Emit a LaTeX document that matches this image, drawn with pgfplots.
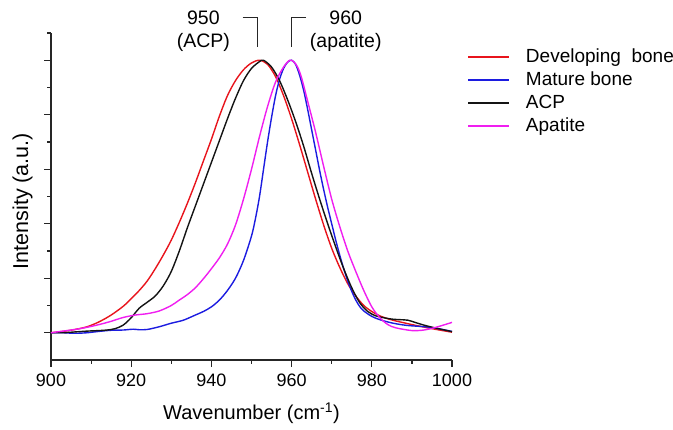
\documentclass[border=0pt]{standalone}
\usepackage{fontspec}
\setmainfont{Liberation Sans}
\usepackage{pgfplots}
\pgfplotsset{compat=1.18}
\definecolor{devred}{HTML}{E8141C}
\definecolor{matblue}{HTML}{1C1CE0}
\definecolor{acpblack}{HTML}{141414}
\definecolor{apamag}{HTML}{F01EF0}

\begin{document}
\begin{tikzpicture}
\begin{axis}[
    scale only axis,
    width=401pt, height=327pt,
    at={(51pt,70pt)}, anchor=south west,
    xmin=900, xmax=1000, ymin=-0.1, ymax=1.1,
    axis lines=left,
    axis line style={-, line width=1.2pt, black!85},
    xtick={900,920,940,960,980,1000},
    minor xtick={910,930,950,970,990},
    ytick={0,0.2,0.4,0.6,0.8,1.0},
    minor ytick={0.1,0.3,0.5,0.7,0.9,1.1},
    yticklabels={},
    tick align=outside,
    major tick length=7pt, minor tick length=4pt,
    tick style={line width=1.2pt, black!85},
    /pgf/number format/1000 sep={},
    /pgf/number format/assume math mode=true,
    xticklabel style={font=\fontsize{18}{22}\selectfont, anchor=base, inner sep=0pt, yshift=-19.5pt},
    xlabel={Wavenumber (cm\textsuperscript{-1})},
    ylabel={Intensity (a.u.)},
    xlabel style={font=\fontsize{20}{24}\selectfont, at={(axis description cs:0.5,-0.1835)}, anchor=base},
    ylabel style={font=\fontsize{21.5}{25}\selectfont, at={(axis description cs:-0.057,0.486)}, anchor=base},
    clip=false,
    legend cell align=left,
    legend style={draw=none, fill=none, at={(1.0374,0.953)}, anchor=north west,
        inner sep=0pt, row sep=5.5pt, column sep=16pt,
        nodes={inner sep=0pt, text height=13.5pt, text depth=4pt},
        font=\fontsize{19}{23}\selectfont},
    legend image code/.code={\draw[#1, line width=1.8pt] (0pt,0pt) -- (41pt,0pt);},
    every axis plot/.append style={line width=1.4pt, smooth},
]
% Developing bone
\addplot[devred] coordinates {
(900,0.0) (903,0.005) (906,0.012) (909,0.022) (912,0.04) (915,0.065) (918,0.097)
(920,0.125) (922,0.155) (924,0.19) (926,0.235) (928,0.285) (930,0.34) (932,0.405)
(934,0.475) (936,0.55) (938,0.63) (940,0.71) (942,0.795) (944,0.87) (946,0.925)
(948,0.965) (950,0.99) (952,1.0) (954,0.985) (956,0.94) (958,0.87) (960,0.785)
(962,0.69) (964,0.59) (966,0.49) (968,0.395) (970,0.31) (972,0.24) (974,0.18)
(976,0.135) (978,0.10) (980,0.078) (982,0.062) (985,0.047) (990,0.03) (995,0.015)
(1000,0.002)
};
\addlegendentry{Developing\ \ bone}
% Mature bone
\addplot[matblue] coordinates {
(900,0.0) (903,0.0) (906,-0.002) (909,0.0) (912,0.005) (915,0.009) (918,0.01)
(920.5,0.013) (922,0.011) (924,0.012) (927,0.022) (930,0.035) (933,0.046)
(936,0.065) (938,0.078) (940,0.095) (942,0.12) (944,0.155) (946,0.2) (948,0.265)
(950,0.355) (951,0.42) (952,0.5) (953,0.6) (954,0.7) (955,0.79) (956,0.87)
(957,0.93) (958,0.97) (959,0.993) (960,1.0) (961,0.985) (962,0.945) (963,0.89)
(964,0.82) (965,0.745) (966,0.67) (967,0.595) (968,0.525) (969,0.46) (970,0.40)
(971,0.34) (972,0.285) (973,0.235) (974,0.19) (975,0.152) (976,0.12) (977,0.096)
(978,0.08) (980,0.06) (982,0.048) (985,0.036) (988.7,0.027) (994.5,0.02) (1000,0.005)
};
\addlegendentry{Mature bone}
% ACP
\addplot[acpblack] coordinates {
(900,0.0) (903,0.0) (906,0.003) (909,0.006) (912,0.008) (914,0.01) (916,0.015)
(918,0.028) (920,0.055) (922,0.09) (924,0.112) (926,0.135) (928,0.172) (930,0.225)
(932,0.3) (934,0.385) (936,0.465) (938,0.545) (940,0.625) (942,0.705) (944,0.785)
(946,0.86) (948,0.925) (950,0.97) (952,0.995) (953,1.0) (955,0.975) (957,0.925)
(959,0.855) (961,0.775) (963,0.685) (965,0.585) (967,0.49) (969,0.4) (971,0.315)
(973,0.235) (975,0.165) (977,0.11) (979,0.078) (981,0.062) (983,0.055) (985,0.05)
(987,0.048) (989,0.046) (991,0.037) (993,0.028) (996,0.017) (1000,0.004)
};
\addlegendentry{ACP}
% Apatite
\addplot[apamag] coordinates {
(900,0.0) (903,0.006) (906,0.012) (909,0.02) (912,0.03) (915,0.042) (918,0.056)
(921,0.065) (924,0.07) (927,0.08) (930,0.1) (932,0.12) (934,0.14) (936,0.165)
(938,0.198) (940,0.235) (942,0.275) (944,0.325) (946,0.395) (948,0.49) (950,0.6)
(952,0.72) (954,0.83) (956,0.92) (958,0.975) (959.5,1.0) (960.5,0.995) (961.5,0.975)
(962.5,0.935) (964,0.85) (966,0.735) (968,0.61) (970,0.49) (972,0.39) (974,0.3)
(976,0.225) (978,0.155) (980,0.095) (982,0.055) (984,0.03) (986,0.018) (990,0.008)
(993,0.01) (996,0.02) (1000,0.038)
};
\addlegendentry{Apatite}
% peak annotations
\draw[line width=1.1pt, black!85] (axis cs:947.8,1.156) -- (axis cs:951.4,1.156) -- (axis cs:951.4,1.048);
\draw[line width=1.1pt, black!85] (axis cs:963.6,1.156) -- (axis cs:960.0,1.156) -- (axis cs:960.0,1.048);
\node[font=\fontsize{19.5}{23}\selectfont] at (axis cs:938.0,1.154) {950};
\node[font=\fontsize{19.5}{23}\selectfont] at (axis cs:938.0,1.066) {(ACP)};
\node[font=\fontsize{19.5}{23}\selectfont] at (axis cs:973.5,1.154) {960};
\node[font=\fontsize{19.5}{23}\selectfont] at (axis cs:973.5,1.066) {(apatite)};
\end{axis}
\pgfresetboundingbox
\path[use as bounding box] (0pt,0pt) rectangle (673pt,430pt);
\end{tikzpicture}
\end{document}
